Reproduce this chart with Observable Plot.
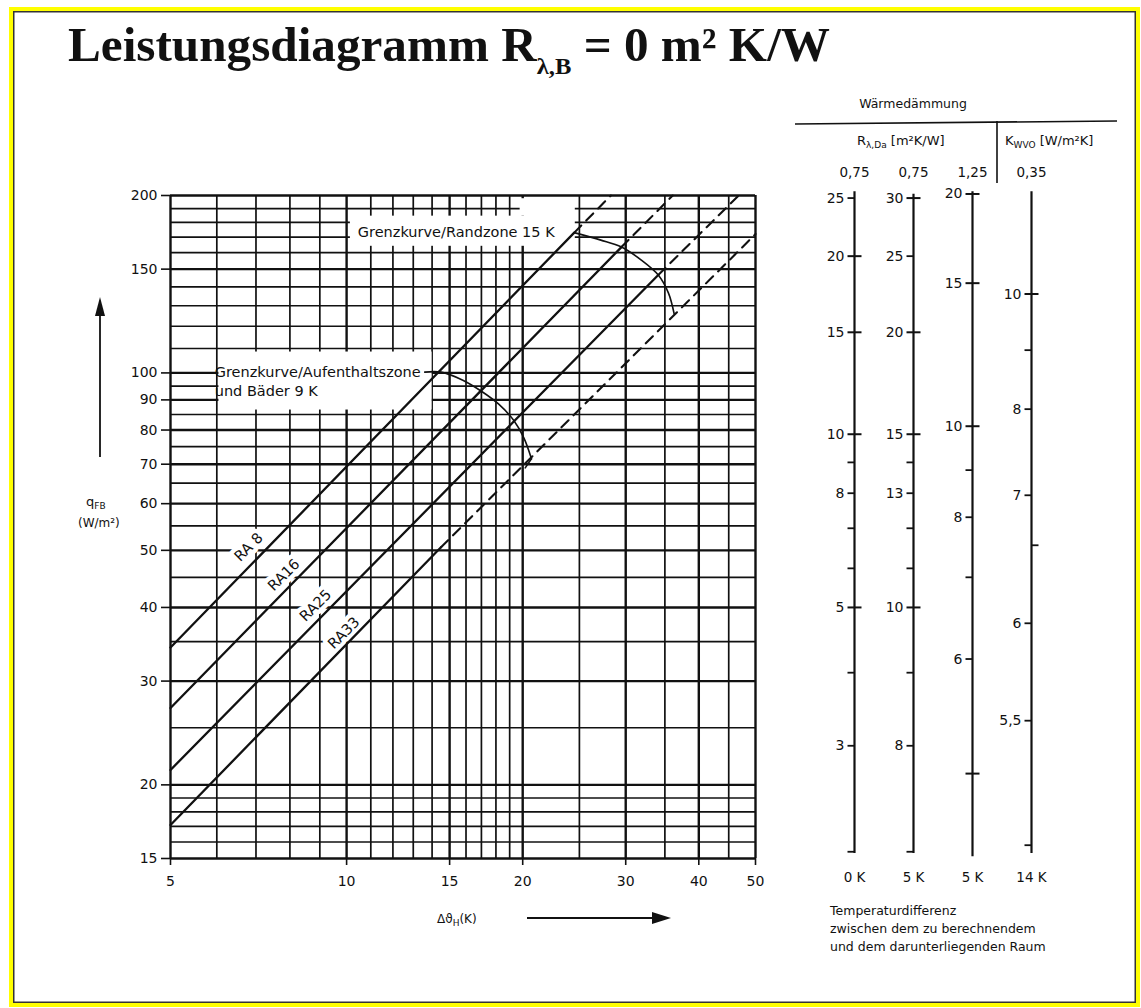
<!DOCTYPE html>
<html><head><meta charset="utf-8">
<script src="https://cdn.jsdelivr.net/npm/d3@7"></script>
<script src="https://cdn.jsdelivr.net/npm/@observablehq/plot@0.6"></script>
<style>
html,body{margin:0;padding:0;background:#fff;}
#page{position:relative;width:1141px;height:1008px;overflow:hidden;background:#fff;}
#frame{position:absolute;left:9px;top:7px;right:1px;bottom:1px;border:4px solid #ffff00;box-shadow:inset 0 0 0 1.5px #333;}
#main,#nomo,#over{position:absolute;top:0;}
#main{left:0px;}
#nomo{left:780px;}
#over{left:0px;pointer-events:none;}
svg{overflow:visible;}
</style></head>
<body><div id="page"><div id="frame"></div><div id="main"></div><div id="nomo"></div>
<svg id="over" width="1141" height="1008"></svg></div>
<script>
// ---------- data: main diagram ----------
const xTickValues = [5, 10, 15, 20, 30, 40, 50];
const yTickValues = [15, 20, 30, 40, 50, 60, 70, 80, 90, 100, 150, 200];
const xGridValues = [5,6,7,8,9,10,11,12,13,14,15,16,17,18,19,20,25,30,35,40,45,50];
const yGridValues = [15,16,17,18,19,20,25,30,35,40,45,50,55,60,65,70,75,80,85,90,95,100,110,120,130,140,150,160,170,180,190,200];

const raNames = ["RA 8", "RA16", "RA25", "RA33"];
// solid part [Δθ, q] and dashed continuation
const ra8Solid = [[5, 34.2], [24.5, 173]];
const ra8Dashed = [[24.5, 173], [28.3, 200]];
const ra16Solid = [[5, 27.0], [29.5, 163.5]];
const ra16Dashed = [[29.5, 163.5], [36.1, 200]];
const ra25Solid = [[5, 21.2], [34.1, 146.6]];
const ra25Dashed = [[34.1, 146.6], [46.8, 200]];
const ra33Solid = [[5, 17.1], [14.5, 50.6]];
const ra33Dashed = [[14.5, 50.6], [50, 172]];

// limit curves
const curve9K = [[13.6, 100.3], [14.5, 100.3], [15.8, 97.2], [17.0, 93.1], [18.2, 88.5], [19.3, 83.1], [20.1, 77.5], [20.7, 71.5]];
const hook9K = [[20.7, 71.5], [20.2, 69.0]];
const curve15K = [[24.5, 173], [27.2, 168], [29.5, 163.5], [31.9, 155.4], [34.1, 146.6], [35.5, 136.6], [36.3, 126]];

// ---------- data: nomogram (Wärmedämmung) ----------
const nomoHeads = ["0,75", "0,75", "1,25", "0,35"];
const nomoFeet = ["0 K", "5 K", "5 K", "14 K"];
const nomoTop = [203, 201, 203, 203];
const nomoBottom = [15.3, 15.3, 15.1, 15.3];
const nomoScale1 = [
  {v:"25",q:198,k:"left",lab:true},{v:"20",q:157.8,k:"cross",lab:true},{v:"15",q:117.2,k:"cross",lab:true},
  {v:"10",q:78.7,k:"cross",lab:true},{v:"9",q:70.5,k:"left",lab:false},{v:"8",q:62.5,k:"left",lab:true},
  {v:"7",q:54.5,k:"left",lab:false},{v:"6",q:46.6,k:"left",lab:false},{v:"5",q:40.0,k:"cross",lab:true},
  {v:"4",q:31.0,k:"left",lab:false},{v:"3",q:23.3,k:"left",lab:true},{v:"2",q:15.4,k:"left",lab:false}];
const nomoScale2 = [
  {v:"30",q:198,k:"cross",lab:true},{v:"25",q:157.8,k:"left",lab:true},{v:"20",q:117.2,k:"cross",lab:true},
  {v:"15",q:78.7,k:"cross",lab:true},{v:"14",q:70.5,k:"left",lab:false},{v:"13",q:62.5,k:"left",lab:true},
  {v:"12",q:54.5,k:"left",lab:false},{v:"11",q:46.6,k:"left",lab:false},{v:"10",q:40.0,k:"cross",lab:true},
  {v:"9",q:31.0,k:"left",lab:false},{v:"8",q:23.3,k:"left",lab:true},{v:"7",q:15.4,k:"left",lab:false}];
const nomoScale3 = [
  {v:"20",q:201.2,k:"cross",lab:true},{v:"15",q:142.0,k:"cross",lab:true},{v:"10",q:81.2,k:"cross",lab:true},
  {v:"9",q:68.4,k:"left",lab:false},{v:"8",q:56.9,k:"left",lab:true},{v:"7",q:45.0,k:"left",lab:false},
  {v:"6",q:32.7,k:"left",lab:true},{v:"5",q:20.9,k:"cross",lab:false}];
const nomoScale4 = [
  {v:"10",q:136.1,k:"cross",lab:true},{v:"9",q:109.3,k:"left",lab:false},{v:"8",q:86.8,k:"left",lab:true},
  {v:"7",q:62.0,k:"left",lab:true},{v:"6,5",q:51.0,k:"right",lab:false},{v:"6",q:37.6,k:"left",lab:true},
  {v:"5,5",q:25.7,k:"left",lab:true},{v:"5",q:15.8,k:"left",lab:false}];

// ---------- annotation placement ----------
const gapBoxes = [
  {x1: 10.15, x2: 24.6, y1: 164, y2: 184.5},
  {x1: 19.8, x2: 24.6, y1: 184.5, y2: 197.5},
  {x1: 6.05, x2: 14.0, y1: 86.5, y2: 108.5}
];
const raLabelPos = [[6.8, 50.6], [7.81, 45.4], [8.85, 40.3], [9.89, 36.2]];
const curveLabels = [
  {x: 10.45, y: 173, t: "Grenzkurve/Randzone 15 K"},
  {x: 5.95, y: 100.3, t: "Grenzkurve/Aufenthaltszone"},
  {x: 5.95, y: 93.0, t: "und Bäder 9 K"}
];

const FONT = "DejaVu Sans, Liberation Sans, Arial, sans-serif";
const ink = "#111";
const P = () => ({x: d => d[0], y: d => d[1]});

const raLabels = raNames.map((n, i) => ({n, x: raLabelPos[i][0], y: raLabelPos[i][1]}));

const main = Plot.plot({
  width: 800, height: 1008,
  marginLeft: 170, marginRight: 45, marginTop: 195, marginBottom: 150,
  x: {type: "log", domain: [5, 50]},
  y: {type: "log", domain: [15, 200]},
  style: {fontFamily: FONT, fontSize: "14px", color: ink, background: "transparent", overflow: "visible"},
  marks: [
    Plot.ruleY(yGridValues, {y: d => d, stroke: ink, strokeWidth: d => yTickValues.includes(d) ? 2.4 : 1.7}),
    Plot.ruleX(xGridValues, {x: d => d, stroke: ink, strokeWidth: d => xTickValues.includes(d) ? 2.4 : 1.7}),
    Plot.rect(gapBoxes, {x1: "x1", x2: "x2", y1: "y1", y2: "y2", fill: "white"}),
    Plot.text(raLabels, {x: "x", y: "y", text: "n", rotate: -45, fontSize: 14.5, fill: "white", stroke: "white", strokeWidth: 9}),
    Plot.line(ra8Solid, {...P(), stroke: ink, strokeWidth: 2.3}),
    Plot.line(ra16Solid, {...P(), stroke: ink, strokeWidth: 2.3}),
    Plot.line(ra25Solid, {...P(), stroke: ink, strokeWidth: 2.3}),
    Plot.line(ra33Solid, {...P(), stroke: ink, strokeWidth: 2.3}),
    Plot.line(ra8Dashed, {...P(), stroke: ink, strokeWidth: 2.1, strokeDasharray: "10,7"}),
    Plot.line(ra16Dashed, {...P(), stroke: ink, strokeWidth: 2.1, strokeDasharray: "10,7"}),
    Plot.line(ra25Dashed, {...P(), stroke: ink, strokeWidth: 2.1, strokeDasharray: "10,7"}),
    Plot.line(ra33Dashed, {...P(), stroke: ink, strokeWidth: 2.1, strokeDasharray: "10,7"}),
    Plot.line(curve9K, {...P(), stroke: ink, strokeWidth: 1.6, curve: "catmull-rom"}),
    Plot.line(hook9K, {...P(), stroke: ink, strokeWidth: 1.6}),
    Plot.line(curve15K, {...P(), stroke: ink, strokeWidth: 1.6, curve: "catmull-rom"}),
    Plot.text(curveLabels, {x: "x", y: "y", text: "t", textAnchor: "start", fontSize: 14.5, fill: ink}),
    Plot.text(raLabels, {x: "x", y: "y", text: "n", rotate: -45, fontSize: 14.5, fill: ink}),
    Plot.axisY({ticks: yTickValues, tickFormat: d => String(d), tickSize: 9, tickPadding: 4, strokeWidth: 1.6, label: null, fontSize: 14}),
    Plot.axisX({ticks: xTickValues, tickFormat: d => String(d), tickSize: 7, tickPadding: 11, strokeWidth: 1.6, label: null, fontSize: 14})
  ]
});
document.getElementById("main").appendChild(main);

// ---------- nomogram ----------
const nomoAll = [nomoScale1, nomoScale2, nomoScale3, nomoScale4].flatMap((arr, s) => arr.map(d => ({...d, s})));
const nomoLines = nomoTop.map((t, s) => ({s, top: t, bottom: nomoBottom[s]}));
const tickSym = (a, b) => ({draw(ctx) { ctx.moveTo(a, 0); ctx.lineTo(b, 0); }});
const symLeft = tickSym(-7, 0), symCross = tickSym(-7, 7), symRight = tickSym(0, 7);
const nomo = Plot.plot({
  width: 361, height: 1008,
  marginLeft: 0, marginRight: 0, marginTop: 195, marginBottom: 150,
  x: {type: "point", domain: [0, 1, 2, 3], range: [74, 251], padding: 0, axis: null},
  y: {type: "log", domain: [15, 200], axis: null},
  style: {fontFamily: FONT, fontSize: "14px", color: ink, background: "transparent", overflow: "visible"},
  marks: [
    Plot.ruleX(nomoLines, {x: "s", y1: "bottom", y2: "top", stroke: ink, strokeWidth: 2.2}),
    Plot.dot(nomoAll.filter(d => d.k === "left"), {x: "s", y: "q", symbol: symLeft, fill: "none", stroke: ink, strokeWidth: 1.8}),
    Plot.dot(nomoAll.filter(d => d.k === "cross"), {x: "s", y: "q", symbol: symCross, fill: "none", stroke: ink, strokeWidth: 2}),
    Plot.dot(nomoAll.filter(d => d.k === "right"), {x: "s", y: "q", symbol: symRight, fill: "none", stroke: ink, strokeWidth: 1.8}),
    Plot.text(nomoAll.filter(d => d.lab), {x: "s", y: "q", text: "v", textAnchor: "end", dx: -10, fontSize: 14, fill: ink}),
    Plot.text(nomoHeads, {x: (d, i) => i, text: d => d, frameAnchor: "top", dy: -28, fontSize: 13.5, fill: ink}),
    Plot.text(nomoFeet, {x: (d, i) => i, text: d => d, frameAnchor: "bottom", dy: 23, fontSize: 13.5, fill: ink})
  ]
});
document.getElementById("nomo").appendChild(nomo);

// ---------- titles, axis names, captions ----------
const over = document.getElementById("over");
over.innerHTML = `
<g font-family="Liberation Serif, Times New Roman, serif" font-weight="bold" fill="#111">
  <text x="68" y="61" font-size="48" textLength="762" lengthAdjust="spacingAndGlyphs">Leistungsdiagramm R<tspan font-size="24" dy="13">λ,B</tspan><tspan dy="-13"> = 0 m² K/W</tspan></text>
</g>
<g font-family="${FONT}" fill="#111" font-size="12.5">
  <text x="86" y="506" font-size="13">q<tspan font-size="9" dy="3">FB</tspan></text>
  <text x="78" y="527" font-size="12">(W/m²)</text>
  <text x="437" y="923" font-size="12">Δϑ<tspan font-size="9" dy="3">H</tspan><tspan dy="-3">(K)</tspan></text>
  <text x="913" y="108" text-anchor="middle">Wärmedämmung</text>
  <text x="857" y="145" font-size="13">R<tspan font-size="9" dy="3">λ,Da</tspan><tspan dy="-3"> [m²K/W]</tspan></text>
  <text x="1005" y="145" font-size="13">K<tspan font-size="9" dy="3">WVO</tspan><tspan dy="-3"> [W/m²K]</tspan></text>
  <text x="830" y="915">Temperaturdifferenz</text>
  <text x="830" y="933">zwischen dem zu berechnendem</text>
  <text x="830" y="951">und dem darunterliegenden Raum</text>
</g>
<g stroke="#111" fill="none">
  <line x1="795" y1="124" x2="1117" y2="121" stroke-width="1.6"/>
  <line x1="997" y1="121" x2="997" y2="183" stroke-width="1.6"/>
  <line x1="100" y1="457" x2="100" y2="312" stroke-width="1.8"/>
  <line x1="527" y1="918" x2="656" y2="918" stroke-width="1.8"/>
</g>
<g fill="#111">
  <polygon points="100,297 95,316 105,316"/>
  <polygon points="671,918 652,912 652,924"/>
</g>`;
</script>
</body></html>
